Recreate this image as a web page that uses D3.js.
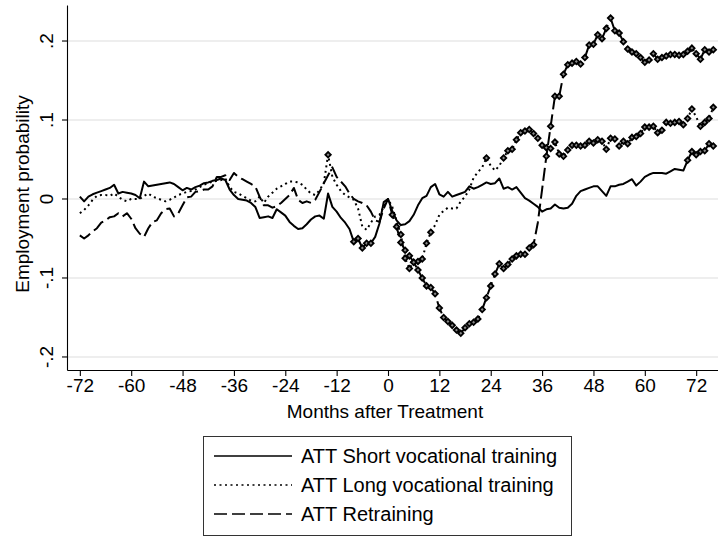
<!DOCTYPE html>
<html>
<head>
<meta charset="utf-8">
<script src="https://cdn.jsdelivr.net/npm/d3@7"></script>
<style>
  body { margin: 0; background: #fff; }
  svg { display: block; font-family: "Liberation Sans", Arial, sans-serif; }
</style>
</head>
<body>
<div id="chart"></div>
<script>
// months after treatment, -72 .. 76
const months = d3.range(-72, 77);

// ATT Short vocational training
const shortTraining = [
  0.003, -0.003, 0.003, 0.006, 0.008, 0.010, 0.012, 0.014, 0.018, 0.007,
  0.009, 0.008, 0.007, 0.005, 0.001, 0.022, 0.016, 0.017, 0.018, 0.019,
  0.020, 0.021, 0.019, 0.015, 0.011, 0.014, 0.012, 0.015, 0.017, 0.020,
  0.021, 0.023, 0.024, 0.026, 0.024, 0.012, 0.005, 0.000, -0.001, -0.002,
  -0.005, -0.010, -0.024, -0.023, -0.022, -0.024, -0.013, -0.017, -0.021, -0.029,
  -0.034, -0.038, -0.037, -0.032, -0.026, -0.022, -0.021, -0.025, 0.007, -0.010,
  -0.016, -0.024, -0.030, -0.038, -0.054, -0.050, -0.062, -0.056, -0.056, -0.048,
  -0.031, -0.004, 0.000, -0.015, -0.027, -0.033, -0.032, -0.028, -0.020, -0.008,
  0.001, 0.004, 0.015, 0.019, 0.006, 0.003, 0.009, 0.003, 0.005, 0.007,
  0.009, 0.016, 0.013, 0.015, 0.018, 0.021, 0.019, 0.020, 0.026, 0.013,
  0.015, 0.012, 0.015, 0.008, 0.001, -0.002, -0.006, -0.010, -0.016, -0.013,
  -0.012, -0.007, -0.011, -0.012, -0.011, -0.006, 0.004, 0.010, 0.012, 0.014,
  0.016, 0.016, 0.010, 0.004, 0.016, 0.016, 0.018, 0.019, 0.022, 0.025,
  0.017, 0.022, 0.028, 0.031, 0.033, 0.033, 0.033, 0.032, 0.035, 0.038,
  0.037, 0.036, 0.049, 0.060, 0.056, 0.060, 0.061, 0.070, 0.067
];

// ATT Long vocational training
const longTraining = [
  -0.018, -0.014, -0.008, -0.001, 0.004, 0.005, 0.005, 0.004, 0.007, 0.003,
  -0.001, -0.003, 0.000, 0.000, 0.000, 0.004, 0.007, 0.003, 0.001, -0.001,
  -0.003, -0.001, 0.002, 0.005, 0.007, 0.009, 0.010, 0.012, 0.015, 0.018,
  0.020, 0.022, 0.023, 0.024, 0.026, 0.015, 0.009, 0.007, 0.004, 0.001,
  -0.002, -0.003, 0.003, -0.005, 0.003, 0.008, 0.013, 0.016, 0.019, 0.022,
  0.022, 0.021, 0.018, 0.012, 0.007, 0.005, 0.011, 0.020, 0.056, 0.028,
  0.018, 0.010, 0.005, 0.002, -0.001, -0.012, -0.035, -0.039, -0.030, -0.022,
  -0.020, -0.010, 0.000, -0.010, -0.028, -0.045, -0.075, -0.088, -0.080, -0.079,
  -0.076, -0.056, -0.042, -0.033, -0.020, -0.015, -0.011, -0.012, -0.012, -0.003,
  0.003, 0.012, 0.027, 0.034, 0.040, 0.052, 0.042, 0.036, 0.042, 0.052,
  0.061, 0.063, 0.075, 0.084, 0.086, 0.088, 0.083, 0.077, 0.068, 0.065,
  0.064, 0.072, 0.057, 0.054, 0.062, 0.068, 0.068, 0.067, 0.068, 0.073,
  0.071, 0.075, 0.073, 0.063, 0.077, 0.076, 0.067, 0.073, 0.070, 0.078,
  0.079, 0.083, 0.091, 0.091, 0.092, 0.084, 0.087, 0.097, 0.096, 0.097,
  0.098, 0.094, 0.102, 0.114, 0.104, 0.092, 0.097, 0.102, 0.116
];

// ATT Retraining
const retraining = [
  -0.046, -0.050, -0.046, -0.041, -0.037, -0.030, -0.027, -0.023, -0.022, -0.018,
  -0.022, -0.018, -0.025, -0.037, -0.044, -0.048, -0.037, -0.029, -0.027, -0.018,
  -0.013, -0.012, -0.022, -0.018, -0.008, 0.002, 0.003, 0.009, 0.010, 0.012,
  0.012, 0.016, 0.028, 0.028, 0.030, 0.024, 0.033, 0.028, 0.025, 0.022,
  0.019, 0.016, 0.003, -0.008, -0.008, -0.011, -0.009, -0.005, 0.000, 0.005,
  0.014, -0.001, -0.005, -0.003, -0.005, -0.001, 0.009, 0.020, 0.030, 0.040,
  0.028, 0.022, 0.016, 0.007, 0.000, -0.003, -0.005, -0.008, -0.016, -0.027,
  -0.029, -0.012, 0.000, -0.020, -0.035, -0.055, -0.065, -0.072, -0.080, -0.090,
  -0.100, -0.110, -0.112, -0.120, -0.138, -0.150, -0.155, -0.160, -0.166, -0.170,
  -0.163, -0.158, -0.156, -0.152, -0.140, -0.125, -0.110, -0.095, -0.082, -0.088,
  -0.083, -0.076, -0.072, -0.070, -0.070, -0.062, -0.058, -0.030, 0.012, 0.054,
  0.092, 0.130, 0.130, 0.158, 0.170, 0.172, 0.174, 0.171, 0.179, 0.195,
  0.196, 0.208, 0.203, 0.216, 0.229, 0.213, 0.210, 0.199, 0.190, 0.186,
  0.184, 0.179, 0.173, 0.176, 0.184, 0.177, 0.179, 0.181, 0.183, 0.183,
  0.182, 0.183, 0.187, 0.191, 0.184, 0.177, 0.189, 0.186, 0.189
];

// months where a marker is drawn on each line
const shortMarked = [-8, -7, -6, -5, -4, 70, 71, 72, 73, 74, 75, 76];
const longMarked = [-14, 3, 4, 5, 6, 7, 8, 9, 10, 23,
  27, 28, 29, 30, 31, 32, 33, 34, 35, 36, 37, 38, 39, 40, 41, 42, 43, 44, 45, 46,
  47, 48, 49, 50, 51, 52, 53, 54, 55, 56, 57, 58, 59, 60, 61, 62, 63, 64, 65, 66,
  67, 68, 69, 70, 71, 73, 74, 75, 76];
const retrainMarked = [1, 2, 3, 4, 5, 6, 7, 8, 9, 10, 11, 12, 13, 14, 15, 16, 17,
  18, 19, 20, 21, 22, 23, 24, 25, 26, 27, 28, 29, 30, 31, 32, 33, 34,
  37, 38, 39, 40, 41, 42, 43, 44, 45, 46, 47, 48, 49, 50, 51, 52, 53, 54, 55, 56,
  57, 58, 59, 60, 61, 62, 63, 64, 65, 66, 67, 68, 69, 70, 71, 72, 73, 74, 75, 76];

const xTicks = [-72, -60, -48, -36, -24, -12, 0, 12, 24, 36, 48, 60, 72];
const yTicks = [-0.2, -0.1, 0, 0.1, 0.2];
const yTickLabels = ["-.2", "-.1", "0", ".1", ".2"];

const seriesNames = ["ATT Short vocational training", "ATT Long vocational training", "ATT Retraining"];

const W = 718, H = 538;
const FONT = 19;

const svg = d3.select("#chart").append("svg")
  .attr("width", W)
  .attr("height", H);

const x = d3.scaleLinear().domain([-75, 77.1]).range([67, 718]);
const y = d3.scaleLinear().domain([-0.2165, 0.2456]).range([370, 5]);

// grid
svg.append("g").selectAll("line")
  .data(yTicks)
  .enter().append("line")
  .attr("x1", x.range()[0]).attr("x2", x.range()[1])
  .attr("y1", d => y(d)).attr("y2", d => y(d))
  .attr("stroke", "#e8e8e8")
  .attr("stroke-width", 1.6);

// axes
const yAxis = svg.append("g")
  .attr("transform", `translate(${x.range()[0]},0)`)
  .call(d3.axisLeft(y).tickValues(yTicks).tickSize(5).tickSizeOuter(0)
    .tickFormat((d, i) => yTickLabels[i]));
yAxis.selectAll("text")
  .attr("font-size", FONT)
  .attr("fill", "#000")
  .attr("text-anchor", "middle")
  .attr("x", 0).attr("dy", 0)
  .attr("transform", d => `translate(-14,${y(d)}) rotate(-90)`)
  .attr("y", 0);
yAxis.selectAll(".tick").attr("transform", null);
yAxis.selectAll(".tick line").attr("y1", d => y(d)).attr("y2", d => y(d));

const xAxis = svg.append("g")
  .attr("transform", `translate(0,${y.range()[0]})`)
  .call(d3.axisBottom(x).tickValues(xTicks).tickSize(6).tickSizeOuter(0)
    .tickFormat(d => String(d)));
xAxis.selectAll("text")
  .attr("font-size", FONT)
  .attr("fill", "#000")
  .attr("y", 9);

svg.selectAll(".domain, .tick line").attr("stroke", "#000").attr("stroke-width", 1.1);

// axis titles
svg.append("text")
  .attr("transform", `translate(29,194) rotate(-90)`)
  .attr("text-anchor", "middle")
  .attr("font-size", FONT)
  .text("Employment probability");

svg.append("text")
  .attr("x", 385)
  .attr("y", 418)
  .attr("text-anchor", "middle")
  .attr("font-size", FONT)
  .text("Months after Treatment");

// lines
const series = [
  { values: shortTraining, marked: shortMarked, dash: null },
  { values: longTraining, marked: longMarked, dash: "2,3.5" },
  { values: retraining, marked: retrainMarked, dash: "13,5" }
];

const line = d3.line()
  .x((d, i) => x(months[i]))
  .y(d => y(d));

const diamond = d3.symbol().type(d3.symbolSquare).size(15);

series.forEach(s => {
  svg.append("path")
    .datum(s.values)
    .attr("fill", "none")
    .attr("stroke", "#000")
    .attr("stroke-width", 2)
    .attr("stroke-linejoin", "round")
    .attr("stroke-dasharray", s.dash)
    .attr("d", line);

  svg.append("g").selectAll("path")
    .data(s.marked)
    .enter().append("path")
    .attr("d", diamond)
    .attr("transform", m => `translate(${x(m)},${y(s.values[months.indexOf(m)])}) rotate(45)`)
    .attr("fill", "#888")
    .attr("stroke", "#000")
    .attr("stroke-width", 1.8);
});

// legend
const legend = svg.append("g");
legend.append("rect")
  .attr("x", 203.5).attr("y", 436.5)
  .attr("width", 368).attr("height", 99)
  .attr("fill", "none")
  .attr("stroke", "#333")
  .attr("stroke-width", 1);

seriesNames.forEach((name, i) => {
  const ly = 456 + i * 29;
  legend.append("line")
    .attr("x1", 214).attr("x2", 292)
    .attr("y1", ly).attr("y2", ly)
    .attr("stroke", "#000")
    .attr("stroke-width", 1.5)
    .attr("stroke-dasharray", series[i].dash);
  legend.append("text")
    .attr("x", 301).attr("y", ly)
    .attr("dy", "0.35em")
    .attr("font-size", 20)
    .text(name);
});
</script>
</body>
</html>
